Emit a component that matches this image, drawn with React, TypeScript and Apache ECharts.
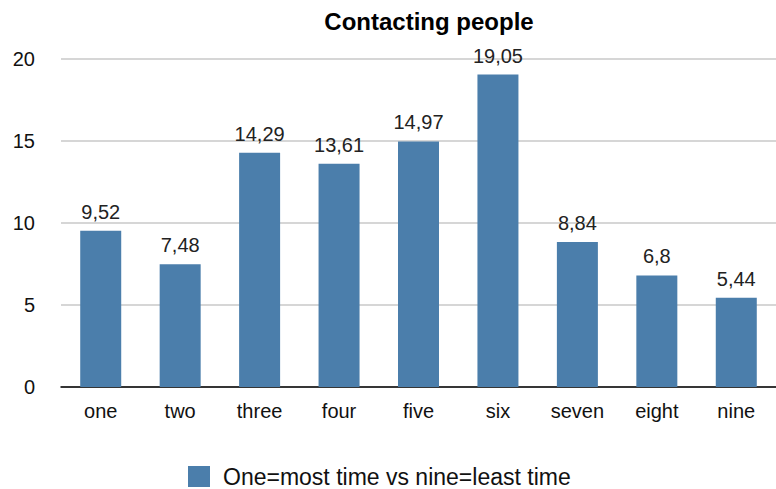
import React, { useEffect, useRef } from "react";
import * as echarts from "echarts";

const categories = ["one", "two", "three", "four", "five", "six", "seven", "eight", "nine"];
const values = [9.52, 7.48, 14.29, 13.61, 14.97, 19.05, 8.84, 6.8, 5.44];
const seriesName = "One=most time vs nine=least time";
const titleText = "Contacting people";

export default function App() {
  const ref = useRef<HTMLDivElement>(null);
  useEffect(() => {
    const chart = echarts.init(ref.current!, undefined, { renderer: "svg" });
    const font = "'Liberation Sans', Arial, Helvetica, sans-serif";
    chart.setOption({
      animation: false,
      textStyle: { fontFamily: font },
      title: {
        text: titleText,
        left: 424,
        top: 4,
        textAlign: "center",
        textStyle: { fontSize: 24, fontWeight: "bold", color: "#000", fontFamily: font },
      },
      legend: {
        data: [seriesName],
        left: 183,
        top: 460,
        itemWidth: 22,
        itemHeight: 21,
        icon: "rect",
        textStyle: { fontSize: 23, color: "#111", fontFamily: font, padding: [0, 0, 0, 8] },
      },
      grid: { left: 61, top: 59, width: 724, bottom: 102, containLabel: false },
      xAxis: {
        type: "category",
        data: categories,
        axisLine: { lineStyle: { color: "#000", width: 1.5 } },
        axisTick: { show: false },
        axisLabel: { fontSize: 20, color: "#111", margin: 14, fontFamily: font },
      },
      yAxis: {
        type: "value",
        min: 0,
        max: 20,
        interval: 5,
        axisLine: { show: false },
        axisTick: { show: false },
        axisLabel: { fontSize: 20, color: "#111", margin: 26, fontFamily: font },
        splitLine: { lineStyle: { color: "#c8c8c8", width: 1.5 } },
      },
      series: [
        {
          name: seriesName,
          type: "bar",
          data: values,
          barWidth: 41,
          itemStyle: { color: "#4b7eab" },
          label: {
            show: true,
            position: "top",
            distance: 9,
            fontSize: 20,
            color: "#222",
            fontFamily: font,
            formatter: (p: any) => String(p.value).replace(".", ","),
          },
        },
      ],
    });
    return () => chart.dispose();
  }, []);
  return <div ref={ref} style={{ width: 776, height: 489, position: "absolute", left: 0, top: 0 }} />;
}
